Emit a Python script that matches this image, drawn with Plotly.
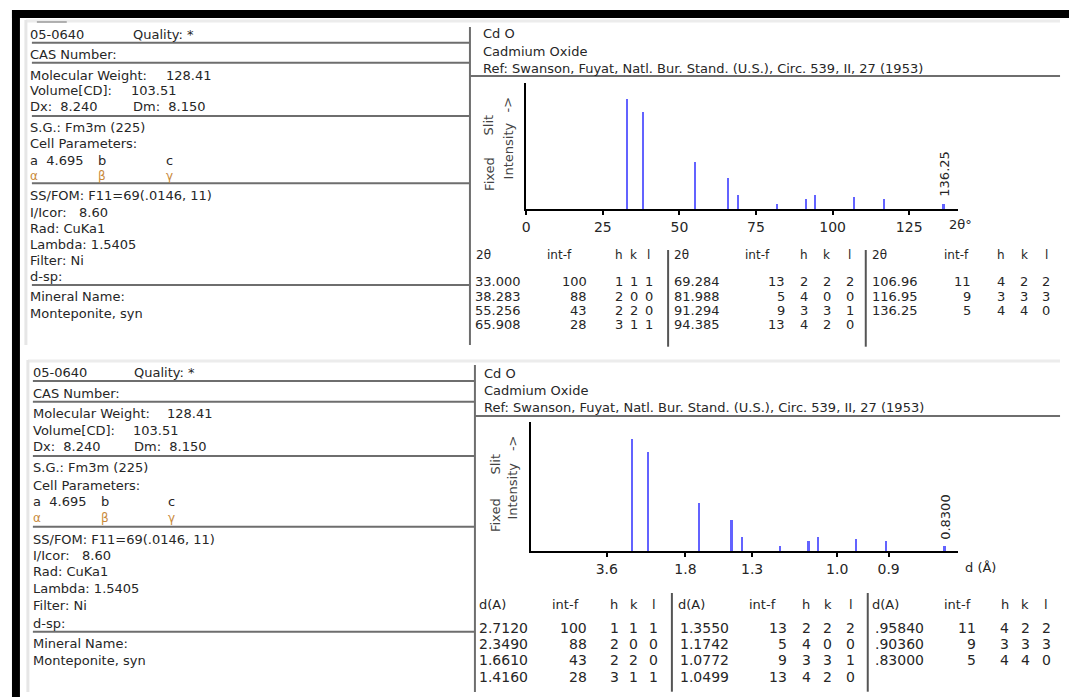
import math
import plotly.graph_objects as go

W, H = 1069, 697

# ---------------- data ----------------
wavelength = 1.5405
two_theta = [33.000, 38.283, 55.256, 65.908, 69.284, 81.988, 91.294, 94.385, 106.96, 116.95, 136.25]
d_spacing = [2.7120, 2.3490, 1.6610, 1.4160, 1.3550, 1.1742, 1.0772, 1.0499, 0.95840, 0.90360, 0.83000]
intensity = [100, 88, 43, 28, 13, 5, 9, 13, 11, 9, 5]
h_idx = [1, 2, 2, 3, 2, 4, 3, 4, 4, 3, 4]
k_idx = [1, 0, 2, 1, 2, 0, 3, 2, 2, 3, 4]
l_idx = [1, 0, 0, 1, 2, 0, 1, 0, 2, 3, 0]
two_theta_ticks = [0, 25, 50, 75, 100, 125]
d_ticks = [3.6, 1.8, 1.3, 1.0, 0.9]
d_tick_labels = ["3.6", "1.8", "1.3", "1.0", "0.9"]

card_no = "05-0640"
quality = "Quality: *"
formula = "Cd O"
compound = "Cadmium Oxide"
reference = "Ref: Swanson, Fuyat, Natl. Bur. Stand. (U.S.), Circ. 539, II, 27 (1953)"
mol_weight = "128.41"
volume = "103.51"
dx_val = "Dx:  8.240"
dm_val = "Dm:  8.150"
space_group = "S.G.: Fm3m (225)"
cell_a = "a  4.695"
ss_fom = "SS/FOM: F11=69(.0146, 11)"
icor = "I/Icor:   8.60"
rad = "Rad: CuKa1"
lam = "Lambda: 1.5405"
filt = "Filter: Ni"
mineral = "Monteponite, syn"

FONT = "DejaVu Sans"
TXT = "#262626"
LINE = "#6e6e6e"
STICK = "#6363ff"


def X(px):
    return px / W


def Y(py):
    return 1 - py / H


def bragg(d):
    return 2 * math.degrees(math.asin(wavelength / (2 * d)))


annotations = []
shapes = []


def text(s, x, y, anchor="left", size=13, color=TXT, angle=0):
    if anchor == "left":
        x -= 4.5
    elif anchor == "right":
        x += 3
    annotations.append(dict(text=s, x=X(x), y=Y(y), xref="paper", yref="paper",
                            xanchor=anchor, yanchor="middle", showarrow=False,
                            textangle=angle,
                            font=dict(family=FONT, size=size, color=color)))


def hline(x0, x1, y, color=LINE, w=2):
    shapes.append(dict(type="line", xref="paper", yref="paper", x0=X(x0), x1=X(x1),
                       y0=Y(y), y1=Y(y), line=dict(color=color, width=w)))


def vline(x, y0, y1, color=LINE, w=2):
    shapes.append(dict(type="line", xref="paper", yref="paper", x0=X(x), x1=X(x),
                       y0=Y(y0), y1=Y(y1), line=dict(color=color, width=w)))


def rect(x0, y0, x1, y1, color):
    shapes.append(dict(type="rect", xref="paper", yref="paper", x0=X(x0), x1=X(x1),
                       y0=Y(y1), y1=Y(y0), line=dict(width=0), fillcolor=color, layer="above"))


# ---------------- frame ----------------
rect(8, 10, 1069, 18, "black")
rect(8, 10, 16, 697, "black")
# faint panel borders
hline(22, 1060, 21, "#ececec", 3)
vline(22, 20, 345, "#e6e6e6", 3)
hline(24, 1060, 361, "#ececec", 3)
vline(24, 360, 692, "#e6e6e6", 3)
hline(33, 63, 22, "#9a9a9a", 1.5)

# ---------------- left info panels ----------------
panels = [
    dict(x=29, rows=[35, 55, 75, 90.7, 106.7, 127.7, 144, 160.7, 175.7, 195.7, 212, 228.3,
                     244.3, 260, 276.7, 296.7, 313.3],
         qx=132, mwx=165, volx=130, dmx=131.7, bx=96.7, cx=165,
         hl=[42.7, 62.7, 116, 183.3, 285], hlx=(28, 467.7), vl=(467.7, 27, 345)),
    dict(x=31.7, rows=[372.3, 393.3, 413.3, 430, 446.7, 467.7, 485, 501.7, 518.3, 539, 555,
                       571.7, 588.3, 605.7, 623.3, 643.3, 660.7],
         qx=133.3, mwx=165.7, volx=131.7, dmx=132.7, bx=100, cx=167.5,
         hl=[381, 401.7, 456, 526.7, 631.7], hlx=(29, 472.7), vl=(472.7, 365, 692)),
]

for p in panels:
    x, r = p["x"], p["rows"]
    text(card_no, x, r[0])
    text(quality, p["qx"], r[0])
    text("CAS Number:", x, r[1])
    text("Molecular Weight:", x, r[2])
    text(mol_weight, p["mwx"], r[2])
    text("Volume[CD]:", x, r[3])
    text(volume, p["volx"], r[3])
    text(dx_val, x, r[4])
    text(dm_val, p["dmx"], r[4])
    text(space_group, x, r[5])
    text("Cell Parameters:", x, r[6])
    text(cell_a, x, r[7])
    text("b", p["bx"], r[7])
    text("c", p["cx"], r[7])
    text("α", x, r[8], size=12, color="#c98a3a")
    text("β", p["bx"], r[8], size=12, color="#c98a3a")
    text("γ", p["cx"], r[8], size=12, color="#c98a3a")
    text(ss_fom, x, r[9])
    text(icor, x, r[10])
    text(rad, x, r[11])
    text(lam, x, r[12])
    text(filt, x, r[13])
    text("d-sp:", x, r[14])
    text("Mineral Name:", x, r[15])
    text(mineral, x, r[16])
    for yy in p["hl"]:
        hline(p["hlx"][0], p["hlx"][1], yy)
    vline(*p["vl"])

# ---------------- right headers ----------------
for cx, ys, ly, lx0 in [(483.4, [33.3, 51.7, 68.3], 76, 467.7),
                        (484.5, [373.3, 390.7, 407.7], 416, 472.7)]:
    text(formula, cx, ys[0])
    text(compound, cx, ys[1])
    text(reference, cx, ys[2])
    hline(lx0, 1060, ly)

# ---------------- tables ----------------
tables = [
    dict(hdr="2θ", vals=["%#.5g" % v for v in two_theta], size=13, hy=255,
         rows=[281.7, 296, 310, 324.3],
         groups=[dict(lab=476, intf=548, vl=475.7, ir=584.5, hkl=[617, 632, 647]),
                 dict(lab=675, intf=746, vl=675.3, ir=783, hkl=[803, 826, 849]),
                 dict(lab=874, intf=946, vl=873.8, ir=970, hkl=[1001, 1024, 1046])],
         seps=[666.6, 865], sy=(250, 346.7)),
    dict(hdr="d(A)", vals=[("%#.5g" % v).lstrip("0") if v < 1 else "%#.5g" % v for v in d_spacing],
         size=14, hy=604, rows=[628.3, 644.3, 660, 676.7],
         groups=[dict(lab=479, intf=553, vl=479.5, ir=584.5, hkl=[612.5, 632.2, 652]),
                 dict(lab=679, intf=750, vl=681, ir=785, hkl=[805.5, 827, 849.8]),
                 dict(lab=874, intf=946, vl=876.6, ir=975, hkl=[1004.3, 1025.3, 1046])],
         seps=[670.4, 867], sy=(593, 691.7)),
]

for t in tables:
    for g in t["groups"]:
        text(t["hdr"], g["lab"], t["hy"], size=t["size"] - 1)
        text("int-f", g["intf"], t["hy"], size=t["size"] - 1)
        for lab, hx in zip(["h", "k", "l"], g["hkl"]):
            text(lab, hx, t["hy"], anchor="center", size=t["size"] - 1)
    for i in range(len(intensity)):
        g = t["groups"][i // 4]
        yy = t["rows"][i % 4]
        text(t["vals"][i], g["vl"], yy, size=t["size"])
        text(str(intensity[i]), g["ir"], yy, anchor="right", size=t["size"])
        for v, hx in zip([h_idx[i], k_idx[i], l_idx[i]], g["hkl"]):
            text(str(v), hx, yy, anchor="center", size=t["size"])
    for sx in t["seps"]:
        vline(sx, t["sy"][0], t["sy"][1], color="#555555", w=2)

# ---------------- stick plots ----------------
d_positions = [bragg(d) for d in d_spacing]
d_tickvals = [bragg(d) for d in d_ticks]

fig = go.Figure()
fig.add_trace(go.Bar(x=two_theta, y=intensity, width=0.75, marker=dict(color=STICK, line=dict(width=0)),
                     xaxis="x", yaxis="y", showlegend=False))
fig.add_trace(go.Bar(x=d_positions, y=intensity, width=0.75, marker=dict(color=STICK, line=dict(width=0)),
                     xaxis="x2", yaxis="y2", showlegend=False))

axis_common = dict(showgrid=False, zeroline=False, showline=True, linecolor="black", linewidth=2,
                   ticks="outside", ticklen=4, tickwidth=2, tickcolor="black",
                   tickfont=dict(family=FONT, size=14, color=TXT), fixedrange=True)
yaxis_common = dict(showgrid=False, zeroline=False, showline=True, linecolor="black", linewidth=2,
                    ticks="", showticklabels=False, fixedrange=True)

fig.update_layout(
    xaxis=dict(domain=[X(524.2), X(957.8)], range=[0, 141], anchor="y",
               tickvals=two_theta_ticks, ticktext=[str(v) for v in two_theta_ticks], **axis_common),
    yaxis=dict(domain=[Y(209), Y(83)], range=[0, 114.5], anchor="x", **yaxis_common),
    xaxis2=dict(domain=[X(529.2), X(957.8)], range=[-0.23, 140.67], anchor="y2",
                tickvals=d_tickvals, ticktext=d_tick_labels, **axis_common),
    yaxis2=dict(domain=[Y(551), Y(421.7)], range=[0, 114.7], anchor="x2", **yaxis_common),
)

# axis captions
text("2θ°", 960, 225, anchor="center", size=13)
text("d (Å)", 980, 567.7, anchor="center", size=13)
# peak label (last peak)
annotations.append(dict(text="%#.5g" % two_theta[-1], x=two_theta[-1], y=Y(174), xref="x", yref="paper",
                        xanchor="center", yanchor="middle", textangle=-90, showarrow=False,
                        font=dict(family=FONT, size=13, color=TXT)))
annotations.append(dict(text="%.4f" % d_spacing[-1], x=d_positions[-1], y=Y(517), xref="x2", yref="paper",
                        xanchor="center", yanchor="middle", textangle=-90, showarrow=False,
                        font=dict(family=FONT, size=13, color=TXT)))
# y-axis captions
for fx, ix, yf, ys, yi, ya in [(487.2, 506.3, 173.5, 125, 151, 104),
                               (492.9, 510, 515, 464.5, 491.5, 443)]:
    text("Fixed", fx, yf, anchor="center", angle=-90, size=13, color="#444444")
    text("Slit", fx, ys, anchor="center", angle=-90, size=13, color="#444444")
    text("Intensity", ix, yi, anchor="center", angle=-90, size=13, color="#444444")
    text("->", ix, ya, anchor="center", angle=-90, size=13, color="#444444")

fig.update_layout(width=W, height=H, margin=dict(l=0, r=0, t=0, b=0),
                  paper_bgcolor="white", plot_bgcolor="white", bargap=0,
                  annotations=annotations, shapes=shapes, showlegend=False)

fig.write_html("out.html")
